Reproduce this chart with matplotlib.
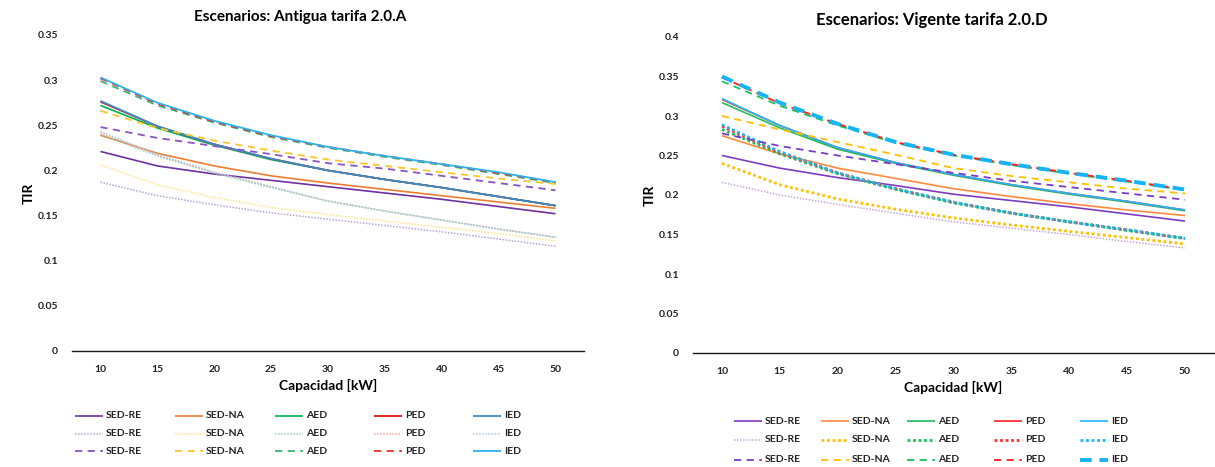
import matplotlib
matplotlib.use("Agg")
import matplotlib.pyplot as plt
from matplotlib.lines import Line2D

plt.rcParams['font.family'] = ['Lato', 'DejaVu Sans']

capacidad = [10, 15, 20, 25, 30, 35, 40, 45, 50]
escenarios = ["SED-RE", "SED-NA", "AED", "PED", "IED"]

# Antigua tarifa 2.0.A  (solid / dotted / dashed variants)
a_sedre      = [0.221, 0.205, 0.196, 0.189, 0.182, 0.175, 0.168, 0.160, 0.152]
a_sedna      = [0.239, 0.219, 0.205, 0.194, 0.186, 0.179, 0.172, 0.165, 0.158]
a_aed        = [0.272, 0.247, 0.228, 0.212, 0.200, 0.190, 0.181, 0.171, 0.161]
a_ped        = [0.276, 0.249, 0.229, 0.213, 0.200, 0.190, 0.181, 0.171, 0.161]
a_ied        = [0.277, 0.249, 0.229, 0.213, 0.200, 0.190, 0.181, 0.171, 0.161]
a_sedre_dot  = [0.187, 0.172, 0.162, 0.153, 0.146, 0.139, 0.132, 0.124, 0.116]
a_sedna_dot  = [0.206, 0.184, 0.170, 0.159, 0.151, 0.144, 0.137, 0.130, 0.122]
a_aed_dot    = [0.240, 0.216, 0.197, 0.181, 0.166, 0.155, 0.145, 0.135, 0.126]
a_ped_dot    = [0.242, 0.217, 0.198, 0.182, 0.166, 0.155, 0.145, 0.135, 0.126]
a_ied_dot    = [0.243, 0.218, 0.198, 0.182, 0.166, 0.155, 0.145, 0.135, 0.126]
a_sedre_dash = [0.248, 0.236, 0.227, 0.218, 0.208, 0.202, 0.194, 0.186, 0.178]
a_sedna_dash = [0.266, 0.247, 0.233, 0.222, 0.212, 0.205, 0.198, 0.191, 0.185]
a_aed_dash   = [0.299, 0.272, 0.253, 0.237, 0.225, 0.215, 0.206, 0.196, 0.186]
a_ped_dash   = [0.302, 0.274, 0.254, 0.238, 0.226, 0.216, 0.207, 0.197, 0.187]
a_ied_dash   = [0.303, 0.275, 0.255, 0.239, 0.226, 0.216, 0.207, 0.198, 0.187]

# Vigente tarifa 2.0.D
d_sedre      = [0.250, 0.234, 0.222, 0.212, 0.201, 0.193, 0.185, 0.176, 0.167]
d_sedna      = [0.275, 0.252, 0.234, 0.221, 0.208, 0.198, 0.189, 0.181, 0.174]
d_aed        = [0.317, 0.285, 0.258, 0.240, 0.225, 0.212, 0.201, 0.191, 0.180]
d_ped        = [0.321, 0.288, 0.260, 0.241, 0.226, 0.213, 0.202, 0.192, 0.181]
d_ied        = [0.322, 0.288, 0.260, 0.241, 0.226, 0.213, 0.202, 0.192, 0.181]
d_sedre_dot  = [0.216, 0.200, 0.188, 0.177, 0.166, 0.158, 0.150, 0.141, 0.133]
d_sedna_dot  = [0.240, 0.213, 0.195, 0.182, 0.171, 0.162, 0.154, 0.146, 0.138]
d_aed_dot    = [0.283, 0.252, 0.227, 0.207, 0.190, 0.177, 0.166, 0.155, 0.145]
d_ped_dot    = [0.287, 0.254, 0.228, 0.208, 0.191, 0.177, 0.166, 0.156, 0.145]
d_ied_dot    = [0.289, 0.255, 0.228, 0.208, 0.191, 0.177, 0.166, 0.156, 0.145]
d_sedre_dash = [0.278, 0.262, 0.250, 0.239, 0.228, 0.218, 0.210, 0.202, 0.194]
d_sedna_dash = [0.300, 0.283, 0.267, 0.251, 0.234, 0.224, 0.216, 0.208, 0.202]
d_aed_dash   = [0.344, 0.313, 0.288, 0.266, 0.250, 0.238, 0.227, 0.217, 0.206]
d_ped_dash   = [0.349, 0.316, 0.290, 0.267, 0.251, 0.239, 0.228, 0.218, 0.207]
d_ied_dash   = [0.350, 0.317, 0.290, 0.267, 0.251, 0.239, 0.228, 0.218, 0.207]

DOT = (0, (1, 1))
DASH = (0, (4, 3))

# (values, color, linestyle, linewidth) in drawing order: solid row, dotted row, dashed row
series_a = [
    (a_sedre, "#7030A0", "-", 1.2), (a_sedna, "#ED7D31", "-", 1.2),
    (a_aed, "#00B050", "-", 1.2), (a_ped, "#E00000", "-", 1.2),
    (a_ied, "#3C8CC8", "-", 1.3),
    (a_sedre_dot, "#B9A3DA", DOT, 1.1), (a_sedna_dot, "#FFE38A", DOT, 1.1),
    (a_aed_dot, "#9CCFB0", DOT, 1.1), (a_ped_dot, "#F4A6A6", DOT, 1.1),
    (a_ied_dot, "#A8CFE6", DOT, 1.1),
    (a_sedre_dash, "#8A55C0", DASH, 1.3), (a_sedna_dash, "#FFC629", DASH, 1.3),
    (a_aed_dash, "#3CB371", DASH, 1.3), (a_ped_dash, "#E03030", DASH, 1.3),
    (a_ied_dash, "#2FB1EA", "-", 1.3),
]

series_d = [
    (d_sedre, "#7D3CC0", "-", 1.2), (d_sedna, "#FF8A3D", "-", 1.2),
    (d_aed, "#1DBF5A", "-", 1.2), (d_ped, "#FF2020", "-", 1.2),
    (d_ied, "#1DB8FF", "-", 1.2),
    (d_sedre_dot, "#C9A8DC", DOT, 1.1), (d_sedna_dot, "#FFC000", DOT, 2.0),
    (d_aed_dot, "#1DBF5A", DOT, 2.0), (d_ped_dot, "#FF3030", DOT, 2.0),
    (d_ied_dot, "#1DB8F5", DOT, 2.0),
    (d_sedre_dash, "#7D3CC0", DASH, 1.3), (d_sedna_dash, "#FFC000", DASH, 1.3),
    (d_aed_dash, "#1DBF5A", DASH, 1.3), (d_ped_dash, "#FF2020", DASH, 1.3),
    (d_ied_dash, "#16B3F5", (0, (3, 2)), 2.8),
]

W, H = 1215, 467
fig = plt.figure(figsize=(W / 100, H / 100), dpi=100)


def fx(px):
    return px / W


def fy(py):
    return 1 - py / H


def px_axes(x0, x1, y_top, y_bot):
    return fig.add_axes([fx(x0), fy(y_bot), (x1 - x0) / W, (y_bot - y_top) / H])


def draw(ax, series, ymax, yticks, ylabels):
    x = list(range(len(capacidad)))
    for vals, col, ls, lw in series:
        ax.plot(x, vals, color=col, linestyle=ls, linewidth=lw,
                solid_capstyle="butt", dash_capstyle="butt")
    ax.set_xlim(-0.5, len(capacidad) - 0.5)
    ax.set_ylim(0, ymax)
    ax.set_xticks(x)
    ax.set_xticklabels([str(c) for c in capacidad])
    ax.set_yticks(yticks)
    ax.set_yticklabels(ylabels)
    for s in ("top", "right", "left"):
        ax.spines[s].set_visible(False)
    ax.spines["bottom"].set_color("#1a1a1a")
    ax.spines["bottom"].set_linewidth(1.0)
    ax.tick_params(length=0, labelsize=7.5, colors="#222222", pad=10)
    for t in ax.get_xticklabels() + ax.get_yticklabels():
        t.set_fontweight("bold")
    ax.set_xlabel("Capacidad [kW]", fontsize=10, fontweight="bold", labelpad=4)
    ax.set_ylabel("TIR", fontsize=10, fontweight="bold", labelpad=2)


def legend_grid(series, col_x, row_y, handle_len=28, gap=3):
    # five columns (one per scenario) by three rows (solid / dotted / dashed)
    for i, name in enumerate(escenarios):
        for r in range(3):
            _, col, ls, lw = series[r * 5 + i]
            x0 = col_x[i]
            y = row_y[r]
            fig.add_artist(Line2D([fx(x0), fx(x0 + handle_len)], [fy(y), fy(y)],
                                  transform=fig.transFigure, color=col,
                                  linestyle=ls, linewidth=lw,
                                  solid_capstyle="butt", dash_capstyle="butt"))
            fig.text(fx(x0 + handle_len + gap), fy(y), name, fontsize=7.5,
                     fontweight="bold", color="#222222", ha="left", va="center")


ax1 = px_axes(72, 584, 35, 351)
draw(ax1, series_a, 0.35,
     [0, 0.05, 0.1, 0.15, 0.2, 0.25, 0.3, 0.35],
     ["0", "0.05", "0.1", "0.15", "0.2", "0.25", "0.3", "0.35"])
fig.text(fx(300), fy(17), "Escenarios: Antigua tarifa 2.0.A", fontsize=11,
         fontweight="bold", ha="center", va="center")
legend_grid(series_a, [75, 175, 275, 374, 473], [416, 434, 451])

ax2 = px_axes(693, 1214, 37, 353)
draw(ax2, series_d, 0.4,
     [0, 0.05, 0.1, 0.15, 0.2, 0.25, 0.3, 0.35, 0.4],
     ["0", "0.05", "0.1", "0.15", "0.2", "0.25", "0.3", "0.35", "0.4"])
fig.text(fx(932), fy(20), "Escenarios: Vigente tarifa 2.0.D", fontsize=12,
         fontweight="bold", ha="center", va="center")
legend_grid(series_d, [734, 821, 907, 994, 1080], [421, 440, 460])

fig.savefig("out.png", dpi=100, facecolor="white")
